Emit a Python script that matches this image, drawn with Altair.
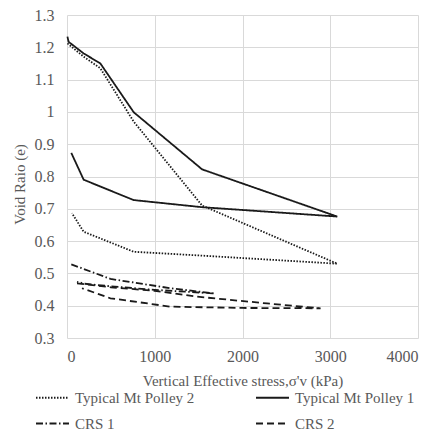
import altair as alt
import pandas as pd

# Typical Mt Polley 1 (solid): loading then unloading
tmp1_stress = [5, 18, 190, 380, 760, 1540, 3080, 1540, 760, 190, 49]
tmp1_e = [1.233, 1.217, 1.181, 1.150, 0.999, 0.822, 0.676, 0.705, 0.727, 0.790, 0.873]

# Typical Mt Polley 2 (dotted)
tmp2_stress = [5, 190, 380, 760, 1540, 3080, 1540, 760, 190, 57]
tmp2_e = [1.212, 1.171, 1.135, 0.970, 0.710, 0.530, 0.555, 0.567, 0.629, 0.686]

# CRS 1 (dash-dot)
crs1_stress = [49, 495, 1180, 1680, 1000, 500, 200, 114]
crs1_e = [0.528, 0.483, 0.454, 0.438, 0.449, 0.460, 0.468, 0.474]

# CRS 2 (dashed)
crs2_stress = [114, 500, 1000, 1482, 2280, 2890, 2000, 1180, 495, 171]
crs2_e = [0.469, 0.457, 0.446, 0.428, 0.407, 0.392, 0.393, 0.397, 0.423, 0.454]

series_names = ["Typical Mt Polley 2", "Typical Mt Polley 1", "CRS 1", "CRS 2"]
dashes = [[1.5, 1.5], [1, 0], [7, 2.5, 1.5, 2.5], [7, 4]]

rows = []
for name, xs, ys in [
    ("Typical Mt Polley 1", tmp1_stress, tmp1_e),
    ("Typical Mt Polley 2", tmp2_stress, tmp2_e),
    ("CRS 1", crs1_stress, crs1_e),
    ("CRS 2", crs2_stress, crs2_e),
]:
    for i, (x, y) in enumerate(zip(xs, ys)):
        rows.append({"series": name, "stress": x, "e": y, "order": i})
df = pd.DataFrame(rows)

font = "Liberation Serif"
grey = "#595959"

chart = (
    alt.Chart(df)
    .mark_line(color="#1a1a1a", strokeWidth=1.8)
    .encode(
        x=alt.X(
            "stress:Q",
            scale=alt.Scale(domain=[0, 4000], nice=False),
            axis=alt.Axis(
                values=[0, 1000, 2000, 3000, 4000],
                format="d",
                title="Vertical Effective stress,σ'v (kPa)",
                titleY=42,
                titleBaseline="middle",
                labelPadding=10,
                labelFont=font,
                labelFontSize=16,
            ),
        ),
        y=alt.Y(
            "e:Q",
            scale=alt.Scale(domain=[0.3, 1.3], nice=False, zero=False),
            axis=alt.Axis(
                values=[0.3, 0.4, 0.5, 0.6, 0.7, 0.8, 0.9, 1.0, 1.1, 1.2, 1.3],
                labelExpr="datum.value == 1 ? '1' : format(datum.value, '.1f')",
                title="Void Raio (e)",
                titleX=-48,
                titleY=169,
                titleBaseline="middle",
                labelPadding=13,
                labelFont=font,
                labelFontSize=16,
            ),
        ),
        strokeDash=alt.StrokeDash(
            "series:N",
            scale=alt.Scale(domain=series_names, range=dashes),
            legend=alt.Legend(
                title=None,
                orient="none",
                direction="horizontal",
                legendX=-32,
                legendY=365,
                columns=2,
                columnPadding=57,
                rowPadding=-14,
                symbolType="stroke",
                symbolSize=1089,
                symbolStrokeColor="#1a1a1a",
                symbolStrokeWidth=1.8,
                labelOffset=5,
                labelFont=font,
                labelFontSize=15,
                labelColor=grey,
                padding=0,
            ),
        ),
        order="order:Q",
    )
    .properties(
        width=351,
        height=323,
        padding={"left": 67, "top": 15, "right": 19, "bottom": 94},
        autosize=alt.AutoSizeParams(type="none"),
    )
    .configure_view(stroke=None)
    .configure_axis(
        grid=True,
        gridColor="#d9d9d9",
        gridWidth=1,
        domain=False,
        ticks=False,
        labelFont=font,
        labelFontSize=16,
        labelColor=grey,
        titleFont=font,
        titleFontSize=15,
        titleFontWeight="normal",
        titleColor=grey,
    )
)

chart.save("out.html", embed_options={"renderer": "svg", "actions": False})
